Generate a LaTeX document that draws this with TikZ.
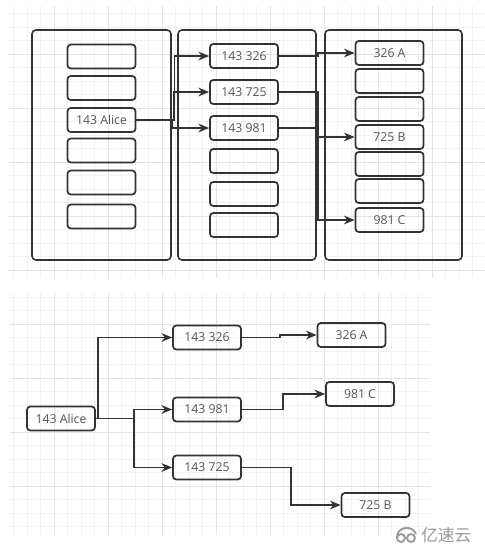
\documentclass[tikz,border=0pt]{standalone}
\usepackage{fontspec}
\setmainfont{Open Sans}
\newfontfamily\cjk{Noto Sans CJK SC}
\usetikzlibrary{arrows.meta}
\definecolor{ink}{HTML}{333333}
\definecolor{label}{HTML}{555555}
\definecolor{minorgrid}{HTML}{F2F2F2}
\definecolor{majorgrid}{HTML}{E4E4E4}
\definecolor{wmgray}{HTML}{9A9A9A}

\tikzset{
	cell/.style={draw=ink, line width=1.3pt, rounded corners=2.5pt, minimum width=51pt, minimum height=18pt, inner sep=0pt, text=label, font=\fontsize{9.2}{11}\selectfont},
	panel/.style={draw=ink, line width=1.2pt, rounded corners=3pt},
	link/.style={draw=ink, line width=1.3pt, -{Stealth[length=8pt,width=6.5pt]}},
}

\begin{document}
\begin{tikzpicture}[x=0.75pt,y=0.75pt,yscale=-1,xscale=1]
	\useasboundingbox (0,0) rectangle (485,547);
	\fill[white] (0,0) rectangle (485,547);

	% grid paper behind both drawings
	\draw[minorgrid, line width=0.4pt, step=13.5] (8,6) grid (485,278);
	\draw[majorgrid, line width=0.5pt, step=54] (8,6) grid (485,278);
	\draw[minorgrid, line width=0.4pt, step=13.5] (10,293) grid (430,535);
	\draw[majorgrid, line width=0.5pt, step=54] (10,293) grid (430,535);

	% upper drawing: three tables
	\draw[panel] (32,30) rectangle (171,260);
	\draw[panel] (178,30) rectangle (316,260);
	\draw[panel] (325,30) rectangle (462,260);

	% first table
	\node[cell] (u1) at (101.5,56.5) {};
	\node[cell] (u2) at (101.5,88) {};
	\node[cell] (ualice) at (101.5,120) {143 Alice};
	\node[cell] (u4) at (101.5,150.5) {};
	\node[cell] (u5) at (101.5,182.5) {};
	\node[cell] (u6) at (101.5,216.5) {};

	% second table
	\node[cell] (u326) at (244,56) {143 326};
	\node[cell] (u725) at (244,92) {143 725};
	\node[cell] (u981) at (244,128) {143 981};
	\node[cell] (u10) at (244,161) {};
	\node[cell] (u11) at (244,194) {};
	\node[cell] (u12) at (244,225) {};

	% third table
	\node[cell] (ua) at (389.5,53) {326 A};
	\node[cell] (u14) at (389.5,81) {};
	\node[cell] (u15) at (389.5,109) {};
	\node[cell] (ub) at (389.5,137) {725 B};
	\node[cell] (u17) at (389.5,164) {};
	\node[cell] (u18) at (389.5,191) {};
	\node[cell] (uc) at (389.5,220) {981 C};

	\draw[link] (ualice.east) -- ++(38,0) |- (u326.west);
	\draw[link] (ualice.east) -- ++(37,0) |- (u725.west);
	\draw[link] (ualice.east) -- ++(36,0) |- (u981.west);
	\draw[link] (u326.east) -- ++(39,0) |- (ua.west);
	\draw[link] (u725.east) -- ++(39,0) |- (uc.west);
	\draw[link] (u981.east) -- ++(38,0) |- (ub.west);

	% lower drawing: the same links as a tree
	\node[cell] (lalice) at (61,418.5) {143 Alice};
	\node[cell] (l326) at (207,337.5) {143 326};
	\node[cell] (l981) at (207,409.5) {143 981};
	\node[cell] (l725) at (207,467.5) {143 725};
	\node[cell] (la) at (351.5,335) {326 A};
	\node[cell] (lc) at (360,394) {981 C};
	\node[cell] (lb) at (375.5,505) {725 B};

	\draw[link] (lalice.east) -- ++(2,0) |- (l326.west);
	\draw[link] (lalice.east) -- ++(38,0) |- (l981.west);
	\draw[link] (lalice.east) -- ++(38,0) |- (l725.west);
	\draw[link] (l326.east) -- ++(38,0) |- (la.west);
	\draw[link] (l981.east) -- ++(41,0) |- (lc.west);
	\draw[link] (l725.east) -- ++(49,0) |- (lb.west);

	% watermark
	\draw[wmgray, line width=1.4pt] (401,538) circle (4);
	\draw[wmgray, line width=1.4pt] (411,538) circle (4);
	\draw[wmgray, line width=1.4pt] (397,538) .. controls (396,527) and (412,524) .. (416,534);
	\node[text=wmgray, anchor=west, inner sep=0pt, font=\cjk\fontsize{12.5}{14}\selectfont] (wm) at (421,535) {亿速云};
\end{tikzpicture}
\end{document}
